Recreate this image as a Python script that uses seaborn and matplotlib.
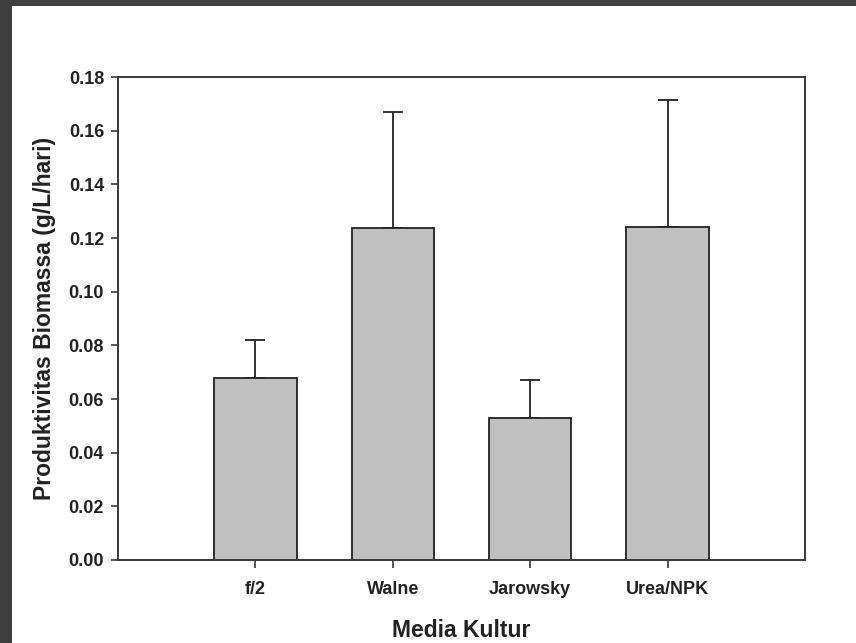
import matplotlib
matplotlib.use("Agg")
import matplotlib.pyplot as plt
import seaborn as sns
import pandas as pd
import numpy as np
from matplotlib.patches import Rectangle

# Biomass productivity by culture medium (mean + SD)
media = ["f/2", "Walne", "Jarowsky", "Urea/NPK"]
productivity = [0.0677, 0.1238, 0.0531, 0.1241]
std_dev = [0.0142, 0.0430, 0.0138, 0.0472]
y_ticks = [0.00, 0.02, 0.04, 0.06, 0.08, 0.10, 0.12, 0.14, 0.16, 0.18]

df = pd.DataFrame({"Media": media, "Produktivitas": productivity, "SD": std_dev})

sns.set_theme(style="white")
plt.rcParams["font.family"] = ["Liberation Sans", "DejaVu Sans"]

fig = plt.figure(figsize=(8.56, 6.43), dpi=100)
fig.patch.set_facecolor("#3f3f3f")
fig.patches.append(Rectangle((12 / 856, 0), 1 - 12 / 856, 1 - 6 / 643,
                             transform=fig.transFigure, facecolor="white",
                             edgecolor="none", zorder=-10))

ax = fig.add_axes([118 / 856, 1 - 560 / 643, 687 / 856, 483 / 643])

sns.barplot(data=df, x="Media", y="Produktivitas", ax=ax, color="#c0c0c0",
            saturation=1, width=0.6, errorbar=None,
            edgecolor="#222222", linewidth=1.3, zorder=2)

xpos = np.arange(len(media))
ax.errorbar(xpos, df["Produktivitas"], yerr=[np.zeros(len(media)), df["SD"]],
            fmt="none", ecolor="#222222", elinewidth=1.3, capsize=7,
            capthick=1.3, zorder=1)

ax.set_xlim(-1.0, 4.0)
ax.set_ylim(0, 0.18)
ax.set_yticks(y_ticks)
ax.set_yticklabels([f"{t:.2f}" for t in y_ticks])

for s in ax.spines.values():
    s.set_visible(True)
    s.set_color("#3a3a3a")
    s.set_linewidth(1.4)

ax.tick_params(axis="both", direction="out", length=5, width=1.2,
               color="#3a3a3a", labelsize=13, pad=5)
ax.tick_params(axis="x", length=6, pad=9)
ax.tick_params(axis="y", left=True)
ax.tick_params(axis="x", bottom=True)
for lbl in ax.get_xticklabels() + ax.get_yticklabels():
    lbl.set_fontweight("bold")
    lbl.set_color("#222222")

ax.set_xlabel("Media Kultur", fontsize=16.5, fontweight="bold", color="#222222",
              labelpad=15)
ax.set_ylabel("Produktivitas Biomassa (g/L/hari)", fontsize=16.5,
              fontweight="bold", color="#222222", labelpad=9)

fig.savefig("out.png", dpi=100, facecolor=fig.get_facecolor())
